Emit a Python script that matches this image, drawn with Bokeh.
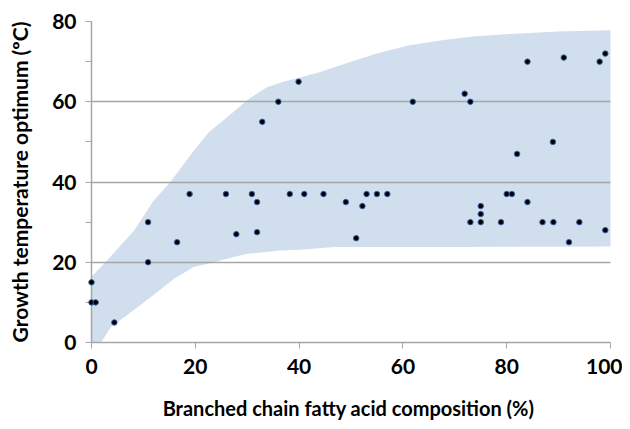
from bokeh.plotting import figure
from bokeh.models import Range1d, SingleIntervalTicker
from bokeh.embed import file_html
from bokeh.resources import INLINE

# data points: branched chain fatty acid (%) vs growth temperature optimum (°C)
bcfa = [0, 0, 0.8, 4.4, 10.9, 10.9, 16.5, 18.9, 25.9, 27.9, 30.9, 31.9, 31.9, 32.9,
        36.0, 38.2, 39.9, 41.0, 44.7, 49.0, 51.0, 52.2, 53.0, 55.0, 57.0, 61.9,
        71.9, 73.0, 73.0, 75.0, 75.0, 75.0, 78.9, 80.0, 81.0, 82.0, 84.0, 84.0,
        86.9, 88.9, 89.0, 91.0, 92.0, 94.0, 97.9, 99.0, 99.0]
temp = [15, 10, 10, 5, 30, 20, 25, 37, 37, 27, 37, 35, 27.5, 55,
        60, 37, 65, 37, 37, 35, 26, 34, 37, 37, 37, 60,
        62, 60, 30, 34, 32, 30, 30, 37, 37, 47, 70, 35,
        30, 50, 30, 71, 25, 30, 70, 72, 28]

# shaded envelope (upper edge left->right, lower edge right->left)
band_upper_x = [0, 2.4, 8.2, 12, 15.2, 19.7, 22.6, 26, 30.3, 33.8, 37, 40.3, 44.1,
                50, 55, 61, 67.9, 74, 80.7, 90, 100, 101]
band_upper_y = [16.4, 19.6, 27.9, 35.4, 40, 47.8, 52.4, 56, 60.7, 63.6, 65, 66.1, 67.4,
                70, 72, 74, 75.4, 76.3, 76.9, 77.5, 77.8, 77.8]
band_lower_x = [101, 100, 70, 46.7, 40.3, 36.4, 30, 27.4, 23.6, 19.7, 15.9, 11.4,
                7, 3.7, 1.7, 0.1, 0]
band_lower_y = [23.9, 23.9, 23.8, 23.8, 23.1, 22.9, 22.1, 21.3, 20, 18.8, 15.9, 11.3,
                7, 3.8, -0.3, -1.2, -1.0]

x_ticks_interval = 20
y_ticks_interval = 20

p = figure(width=622, height=421, output_backend="svg", toolbar_location=None,
           x_range=Range1d(0, 100), y_range=Range1d(0, 80),
           frame_width=519, frame_height=321,
           min_border_left=91, min_border_top=21, min_border_right=12, min_border_bottom=79)
p.outline_line_color = None
p.background_fill_color = "white"

p.patch(band_upper_x + band_lower_x, band_upper_y + band_lower_y,
        fill_color="#D1DEED", line_color=None)

r = p.scatter(bcfa, temp, size=5.5, fill_color="black", line_color="#3A64A8",
              line_width=1)
r.level = "overlay"

p.xgrid.grid_line_color = None
p.ygrid.grid_line_color = "#A6A6A6"
p.ygrid.grid_line_width = 1.5
p.ygrid.level = "annotation"

p.xaxis.ticker = SingleIntervalTicker(interval=x_ticks_interval, num_minor_ticks=0)
p.yaxis.ticker = SingleIntervalTicker(interval=y_ticks_interval, num_minor_ticks=2)

for ax in (p.xaxis[0], p.yaxis[0]):
    ax.axis_line_color = "#A6A6A6"
    ax.axis_line_width = 1.5
    ax.major_tick_line_color = "#A6A6A6"
    ax.minor_tick_line_color = "#A6A6A6"
    ax.major_tick_in = 0
    ax.major_tick_out = 6
    ax.minor_tick_in = 0
    ax.major_label_text_font = "Lato"
    ax.major_label_text_font_style = "bold"
    ax.major_label_text_font_size = "21px"
    ax.major_label_text_color = "black"
    ax.axis_label_text_font = "Lato"
    ax.axis_label_text_font_style = "bold"
    ax.axis_label_text_color = "black"

p.xaxis.minor_tick_out = 0
p.yaxis.minor_tick_out = 6
p.xaxis.major_label_standoff = 10
p.yaxis.major_label_standoff = 9
p.xaxis.axis_label = "Branched chain fatty acid composition  (%)"
p.yaxis.axis_label = "Growth temperature optimum (ºC)"
p.xaxis.axis_label_text_font_size = "20px"
p.yaxis.axis_label_text_font_size = "21px"
p.xaxis.axis_label_standoff = 19
p.yaxis.axis_label_standoff = 17

open("out.html", "w").write(file_html(p, INLINE))
